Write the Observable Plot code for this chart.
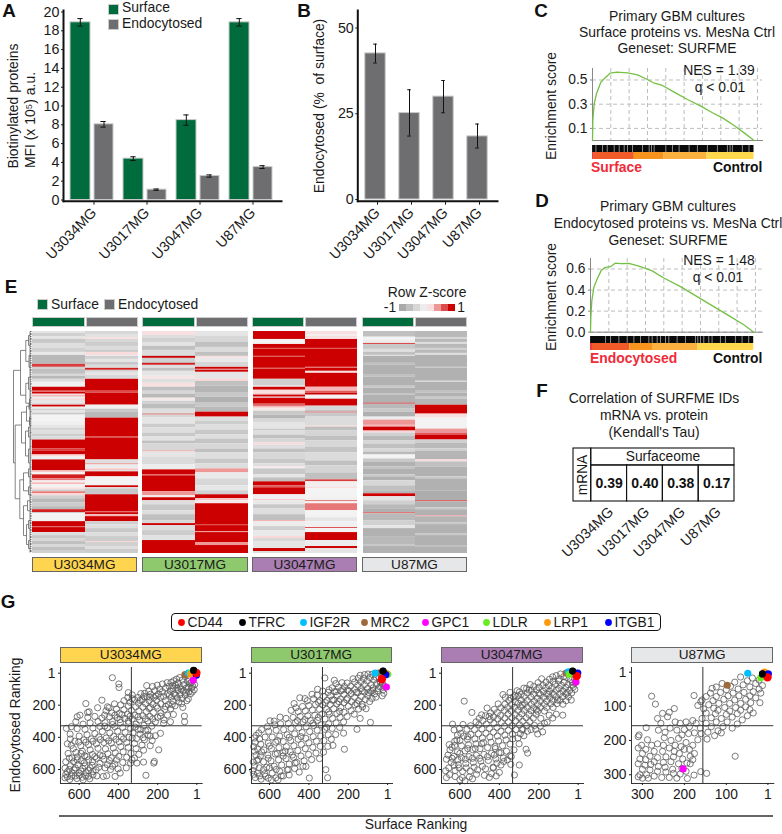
<!DOCTYPE html>
<html><head><meta charset="utf-8">
<script src="https://cdn.jsdelivr.net/npm/d3@7"></script>
<script src="https://cdn.jsdelivr.net/npm/@observablehq/plot@0.6"></script>
<style>
html,body{margin:0;padding:0;background:#fff}
#page{position:relative;width:782px;height:834px;overflow:hidden;font-family:"Liberation Sans",Arial,sans-serif;color:#1a1a1a}
.t{position:absolute;white-space:pre;transform:translate(-50%,-50%);line-height:1}
.s{position:absolute;box-sizing:border-box;border:1px solid #666;text-align:center;white-space:nowrap}
svg{position:absolute;overflow:visible}
</style></head><body><div id="page"></div>
<script>
const cellLines=["U3034MG","U3017MG","U3047MG","U87MG"];
const surfaceMFI=[18.9,4.4,8.5,18.9];
const surfaceErr=[0.4,0.2,0.55,0.4];
const endoMFI=[8.05,1.1,2.55,3.5];
const endoErr=[0.3,0.07,0.12,0.15];
const endoPct=[42.6,25.2,30,18.4];
const endoPctLow=[39.8,18.5,25.3,15];
const endoPctHigh=[45.3,32,34.7,22];

const gseaCRank=[0,18,91,218,455,636,964,1327,1909,2455,2909,3327,3818,4455,5182,5909,6545,7091,7727,8273,8818];
const gseaCES=[0,.165,.303,.386,.482,.51,.556,.565,.559,.543,.51,.477,.455,.40,.339,.284,.229,.187,.124,.063,0];
const gseaCGaps=[182,545,800,1182,1455,1727,1909,2182,2727,3091,3218,3364,4000,4364,4727,5273,5727,6273,6818,7364,7509,7636,8182,8545];
const gseaCBand=[[0,90,"#ee2a2a"],[90,2280,"#f15a29"],[2280,3880,"#f7941d"],[3880,6250,"#fbb040"],[6250,8818,"#ffd84d"]];
const gseaDRank=[0,18,73,182,364,582,764,1091,1364,1636,2091,2545,3000,3364,4000,4909,5818,6727,7636,8364,8909];
const gseaDES=[0,.142,.300,.427,.506,.585,.613,.622,.657,.651,.654,.632,.607,.582,.515,.433,.338,.243,.148,.070,0];
const gseaDGaps=[818,1091,1545,2000,2364,2727,3182,3364,3636,3818,4091,4273,4727,5182,5727,5855,6000,6182,6455,6636,7091,7364,7909,8273,8636];
const gseaDBand=[[0,100,"#ee2a2a"],[100,2145,"#f15a29"],[2145,3380,"#f7941d"],[3380,5870,"#fbb040"],[5870,8909,"#ffd84d"]];

// heatmap runs, flat: start row, z-score, start row, z-score ...
const rowsTotal=223;
const heatU3034S=[0,-.2,2,-.5,5,-.2,8,-.6,12,-.3,17,-.5,21,-.15,24,-.8,33,.8,36,-.5,38,-.7,43,-.4,45,-.8,48,-.35,51,-.05,56,1,60,.6,61,1,63,.1,64,.4,66,-.1,68,.35,69,-.2,72,-.35,74,1,76,-.1,78,-.5,80,-.2,82,-.6,84,0,90,-.05,94,-.2,97,-.45,100,-.3,103,-.55,106,-.35,109,1,118,.8,120,1,124,.3,126,-.05,129,1,140,.35,142,0,144,.9,148,.6,150,.05,152,.4,154,0,157,.2,159,-.5,161,.6,163,.3,165,-.5,168,-.8,172,-.55,176,-.8,179,.9,182,-.6,183,0,191,1,196,.7,197,1,202,-.3,205,-.6,208,-.4,211,-.7,214,-.4,217,-.7,220,-.5];
const heatU3034E=[0,-.4,3,-.25,6,.2,8,-.4,11,-.55,15,-.35,19,-.6,21,.25,24,-.1,25,-.5,28,-.2,31,-.6,34,-.35,37,.9,39,-.5,41,-.2,44,-.4,48,1,60,.75,62,1,74,-.05,78,-.6,81,-.8,87,1,106,.8,107,1,129,-.3,133,.6,134,-.1,138,.35,140,-.4,141,1,146,0,155,1,157,-.2,158,-.6,164,1,181,.7,182,1,184,.4,186,1,191,-.5,194,-.3,198,-.6,202,-.3,206,-.55,211,.3,212,-.5,216,-.3,219,-.55];
const heatU3017S=[0,.2,4,-.3,7,-.5,11,-.25,15,-.7,19,-.35,24,-.5,25,1,27,-.5,31,-.75,32,.9,34,-.3,37,-.7,40,-.2,45,.15,48,-.3,52,.2,56,-.7,60,-.4,63,-.8,67,.1,70,-.5,73,-.75,78,-.3,82,-.6,83,.7,84,-.4,87,-.2,93,-.55,97,-.3,102,-.6,106,-.25,110,-.7,113,-.4,120,.5,121,-.2,126,-.35,134,-.1,139,1,144,.7,145,1,161,.5,165,.1,167,1,170,-.3,174,-.6,180,-.3,184,-.7,190,-.4,193,1,195,-.3,200,-.55,205,-.25,210,1];
const heatU3017E=[0,-.2,5,-.4,11,-.7,16,-.35,21,-.7,25,.2,27,-.15,31,-.4,36,1,38,.5,39,1,41,-.2,48,.3,50,-.7,55,-.85,62,-.6,66,-.9,72,-.6,76,-.8,81,1,86,-.3,90,-.55,94,-.3,99,-.6,104,-.3,108,-.65,113,-.4,118,-.7,122,-.3,128,-.6,133,-.3,138,.5,142,-.15,148,-.4,155,-.2,160,-.5,164,1,168,.35,170,.1,173,1,194,.8,195,1,201,.5,202,1,212,.5,215,1];
const heatU3047S=[0,1,8,0,13,1,17,.7,18,1,25,.7,26,1,37,.7,38,1,48,-.5,55,.05,56,1,59,.2,63,.5,64,1,66,.1,67,1,73,.7,74,1,75,.4,77,.1,80,-.6,84,-.85,88,-.4,92,-.2,98,-.6,100,-.3,104,-.7,108,-.4,112,.25,114,-.3,118,-.7,122,-.4,128,-.6,133,-.3,136,.1,138,-.6,144,-.2,147,-.7,151,1,155,.7,157,1,164,-.05,169,.4,170,-.15,174,-.6,178,-.3,184,-.7,190,.45,191,-.1,196,-.5,200,-.15,206,.3,208,-.4,211,-.2,218,1,221,-.3];
const heatU3047E=[0,.2,3,.05,5,.2,8,1,17,.7,18,1,36,.6,37,1,40,.2,42,1,56,.4,60,.7,62,1,64,.0,68,1,75,-.4,79,-.7,81,.7,82,-.6,86,-.35,95,.3,96,-.7,100,-.45,105,-.7,110,-.4,116,-.65,122,-.35,130,-.7,135,-.45,142,-.7,149,.8,151,.05,156,.2,158,0,166,-.05,170,.7,171,0,173,.6,180,0,187,-.2,191,-.05,197,.8,198,.0,202,1,210,-.1,216,1,218,-.2];
const heatU87S=[0,-.7,5,-.35,6,0,9,-.1,12,.8,13,-.6,18,-.3,21,-.7,24,-.2,25,-.9,32,-.7,34,-.9,44,-.7,46,-.9,55,-.6,57,-.9,63,-.7,64,-.9,72,.9,73,-.8,78,-.6,81,-.9,86,-.1,89,.5,93,.7,94,.4,96,1,100,.3,102,-.5,105,-.8,110,-.4,113,-.7,118,-.4,121,-.8,124,.0,128,-.6,131,-.9,136,-.7,138,-.9,144,-.6,146,-.9,150,-.4,155,-.7,160,-.85,163,1,166,-.2,170,-.5,174,-.8,178,-.9,182,.7,183,-.8,190,-.5,195,-.2,198,-.9,206,-.8,214,-.6,216,-.9];
const heatU87E=[0,-.8,6,-.4,8,-.8,11,-.3,13,-.8,17,-.5,19,-.8,22,-.3,24,-.9,36,-.6,37,-.9,50,-.3,51,-.9,60,-.7,62,-.9,66,-.6,68,-.85,74,1,83,.2,87,0,98,.5,102,.7,104,1,109,-.5,112,-.8,118,-.5,120,-.85,129,.25,131,-.7,136,-.9,146,-.6,148,-.9,160,-.95,170,.8,171,-.9,177,-.6,179,-.9,185,.45,186,-.85,192,-.6,194,-.9,203,-.6,205,-.9,215,-.7,217,-.9];
const zSteps=[-1,-.7,-.4,-.1,.2,.5,.75,1];
// dendrogram merges: height, upper row, lower row, upper child height, lower child height
const dendro=[[18,39,132,11,16.3],[11,19,64,5.7,5.7],[16.3,94,168,10,11.7],[10,81,112,5,6],[11.7,149,188,8,8],[5.7,9,30,3,2.5],[5.7,52,72,3,2],[5,75,90,2.5,2],[6,100,125,3,3],[8,142,160,3,3],[8,175,205,4,5],[3,4,14,1.5,1.5],[2.5,24,36,1.5,1.5],[3,46,58,1.5,1.5],[2,68,76,1.5,1.5],[2.5,72,78,1.5,1.5],[2,86,94,1.5,1.5],[3,96,106,1.5,1.5],[3,118,132,1.5,1.5],[3,138,146,1.5,1.5],[3,156,164,1.5,1.5],[4,170,180,1.5,1.5],[5,194,214,3,3],[3,190,198,1.5,1.5],[3,210,218,1.5,1.5]];
const dendroLeaves=[0,2,3,5,7,8,10,12,13,15,17,19,20,22,24,25,27,29,31,32,34,36,38,39,41,43,45,46,48,50,52,53,55,57,59,60,62,64,66,67,69,71,73,74,76,78,80,81,83,85,87,88,90,92,94,95,97,99,101,102,104,106,108,109,111,113,115,116,118,120,122,123,125,127,129,130,132,134,136,137,139,141,143,144,146,148,150,151,153,155,157,158,160,162,164,165,167,169,171,172,174,176,178,179,181,183,185,186,188,190,192,193,195,197,199,200,202,204,206,207,209,211,213,214,216,218,220,221];

const tauValues=[0.39,0.40,0.38,0.17];

const genes=["CD44","TFRC","IGF2R","MRC2","GPC1","LDLR","LRP1","ITGB1"];
const geneColors=["#ff0000","#000000","#00bfff","#a0693c","#ff00ff","#66ee22","#ff9a0f","#0000ff"];
const geneDrawOrder=["MRC2","IGF2R","LDLR","LRP1","ITGB1","GPC1","CD44","TFRC"];
const hlU3034=[[3,0],[17,-16],[44,0],[61,10],[19,45],[32,0],[32,8],[3,14]];
const hlU3017=[[30,39],[24,-12],[64,0],[47,0],[7,87],[0,8],[8,2],[10,10]];
const hlU3047=[[8,19],[29,-12],[50,-8],[62,0],[12,55],[45,8],[7,0],[3,0]];
const hlU87=[[2,16],[14,6],[49,4],[98,39],[203,283],[18,17],[9,1],[0,6]];

const ptsU3034=[431,29,398,68,397,90,350,122,60,22,88,28,104,38,74,44,48,52,118,48,132,58,96,62,38,66,152,60,66,72,110,74,176,68,202,76,142,82,86,86,28,92,54,94,122,96,160,94,190,100,226,84,256,78,96,108,70,112,42,116,136,112,176,116,214,110,246,114,150,128,116,130,86,134,60,138,196,130,266,126,236,132,286,128,170,146,130,150,100,154,76,158,220,152,254,148,300,152,330,136,352,152,318,166,280,168,244,172,206,168,160,172,122,176,92,180,52,172,34,130,146,196,184,192,224,194,262,190,298,188,340,182,372,172,112,204,72,214,64,268,63,303,135,303,170,313,186,375,195,478,217,550,220,560,260,636,272,554,306,560,331,540,
134,222,164,226,200,218,238,214,276,212,312,210,350,206,388,198,420,192,184,248,222,246,258,240,296,236,334,232,372,228,410,224,448,216,150,262,120,258,200,276,240,270,276,266,316,262,354,256,396,252,434,248,470,262,506,216,484,169,456,210,463,235,168,292,212,304,250,298,292,292,330,286,368,282,406,278,446,272,484,280,520,270,556,276,596,262,610,272,617,303,665,344,640,334,566,190,549,241,557,245,
230,330,270,326,310,318,348,312,390,308,430,302,468,308,504,302,544,310,580,318,262,358,300,350,338,344,378,338,418,334,456,340,494,332,530,342,570,350,610,346,212,390,250,384,290,380,326,372,366,368,404,362,444,372,482,364,520,376,560,384,600,392,646,380,645,410,228,420,268,416,308,408,346,400,386,398,424,394,462,404,500,398,538,410,576,416,622,424,660,440,640,450,238,452,280,448,318,438,358,432,396,428,436,436,474,432,512,440,552,446,592,452,630,470,272,480,310,470,350,462,388,458,426,466,466,472,504,468,544,478,584,486,616,494,656,500,296,506,336,500,376,490,416,496,454,502,494,510,532,506,572,514,610,522,650,530,318,530,358,524,398,518,436,528,474,536,512,530,552,540,590,546,628,552,668,552,338,560,378,556,418,566,456,570,494,562,534,574,570,578,606,570,644,576,672,592,417,643,477,643,460,639,391,622,360,590,402,596,440,600,514,602,552,606,590,610,626,602,660,614,530,634,566,640,600,636,638,642,668,630,672,652,648,662,612,656,580,664,546,658,510,640,
18,30,40,40,30,60,12,72,22,82,44,86,14,104,80,100,102,92,124,80,58,120,24,118,108,138,140,136,186,150,208,142,240,150,270,146,290,170,330,160,78,190,44,160,126,196,160,208,206,206,244,220,186,268,226,286,262,284,300,272,340,268,382,258,418,262,350,300,392,290,430,320,470,330,316,336,286,352,250,356,238,392,274,402,330,404,374,410,412,412,450,422,492,414,530,424,566,430,602,430,
590,500,560,520,520,520,480,516,446,544,410,540,532,552,610,540,636,528,574,558,620,590,582,594,544,590,500,586,468,590,430,580,650,600,600,622,566,620,530,612,636,620,660,646,620,640,584,648,552,642];
const ptsU3017=[319,31,271,45,263,66,356,101,446,154,420,159,475,190,597,297,576,299,88,307,156,350,220,474,305,651,314,601,398,653,449,616,415,581,
80,8,100,6,118,10,140,14,60,26,44,30,90,28,122,34,150,32,176,36,70,44,38,52,104,50,136,54,168,56,206,62,232,60,26,66,56,68,84,72,118,72,152,76,188,82,220,84,250,88,282,92,40,86,74,92,102,96,134,96,168,102,204,106,238,110,270,116,302,120,330,112,24,104,52,110,86,114,118,118,152,122,186,128,222,132,256,138,290,142,326,146,358,138,384,132,20,126,66,130,100,140,134,146,168,150,204,156,240,162,274,168,308,170,344,172,376,160,408,172,80,158,114,164,148,172,184,178,222,184,258,192,292,196,330,198,366,196,400,202,432,208,466,216,130,194,166,198,200,206,238,214,274,222,310,226,346,226,382,230,418,236,454,240,490,232,
110,222,148,224,186,234,222,244,258,252,296,256,334,256,370,262,406,266,444,270,480,276,516,282,546,274,170,256,206,270,242,276,280,282,318,286,356,294,392,296,430,304,468,308,504,314,544,316,572,322,610,334,140,282,224,304,262,310,300,316,338,322,376,326,414,334,452,340,490,344,528,352,566,356,604,362,640,352,654,372,668,388,244,338,282,344,320,350,358,356,396,364,434,370,472,378,510,384,548,392,586,398,622,398,650,410,676,404,224,374,264,382,302,384,340,392,378,396,416,406,454,412,492,420,530,426,568,430,606,436,644,442,672,430,680,458,286,412,324,420,362,424,400,434,438,444,476,452,514,458,552,464,590,470,628,478,660,472,676,486,304,456,342,456,380,462,418,470,456,482,494,490,532,496,570,504,608,510,646,516,668,512,278,450,326,492,364,498,402,506,440,516,478,524,516,532,554,540,592,546,630,552,664,544,682,554,346,532,386,538,424,546,462,556,500,566,538,572,576,580,614,586,652,590,676,578,430,580,472,594,510,602,548,612,586,622,624,626,660,622,684,606,530,640,568,652,606,654,642,660,672,650,680,630,650,640,620,642,590,664,556,664,500,634,
36,58,16,84,48,96,76,108,96,122,130,112,160,120,196,112,228,104,262,116,298,104,28,142,60,150,92,178,156,190,208,166,248,178,282,168,316,184,352,182,128,210,244,238,300,242,352,276,420,290,458,296,380,312,310,338,440,396,500,400,558,420,600,454,640,490,560,500,520,486,484,510,606,530,656,538,530,516,470,560,600,590,630,600,566,600,540,640,504,600];
const ptsU3047=[578,175,539,245,382,134,502,282,637,318,629,354,595,375,615,416,654,445,299,572,324,634,451,649,257,498,265,474,181,366,206,379,172,313,79,262,
90,6,74,22,112,16,130,24,60,28,40,40,96,36,146,38,100,50,72,58,30,58,128,52,164,56,186,36,204,60,52,72,86,76,118,70,150,78,180,76,26,88,64,90,98,96,132,92,166,94,200,88,226,84,244,72,44,108,78,112,112,108,146,112,178,114,212,104,238,108,276,94,298,118,34,124,62,130,94,128,126,132,160,130,192,134,226,132,258,124,290,132,328,150,80,148,112,148,144,152,176,152,208,156,240,150,274,146,306,142,342,156,50,148,36,168,62,172,94,170,128,170,160,174,192,174,224,176,258,170,290,168,320,180,352,170,108,190,140,192,172,194,206,196,238,194,272,190,304,188,338,196,372,194,406,192,128,214,160,214,192,214,226,216,258,214,292,210,324,214,358,214,392,216,426,226,462,218,172,236,206,238,240,234,274,232,306,232,340,236,374,232,410,246,444,248,452,270,490,260,112,256,148,262,214,256,250,258,286,254,320,258,356,256,394,264,430,272,470,266,
190,282,228,280,264,278,300,276,336,278,372,280,408,286,446,290,484,296,518,304,246,302,282,300,318,298,354,304,390,308,428,312,466,318,504,322,546,328,584,320,222,326,262,326,298,322,336,328,374,330,412,338,450,344,488,348,526,352,564,350,602,346,240,352,280,350,316,352,354,356,392,362,430,368,468,374,506,378,544,382,580,392,294,378,334,380,372,386,410,392,448,398,486,404,524,410,562,412,600,420,640,462,332,410,366,416,404,422,442,430,480,432,518,440,556,446,592,452,626,450,346,442,384,452,422,458,460,464,498,470,536,476,574,484,612,490,650,478,326,478,364,486,402,494,440,500,478,506,516,512,554,520,592,526,630,518,660,510,340,520,380,528,418,534,456,544,494,548,532,556,570,562,608,570,644,556,668,536,342,568,392,572,432,586,470,596,510,602,548,610,586,612,624,606,656,590,672,608,400,618,440,626,476,636,516,630,552,646,588,650,624,644,652,632,668,650,600,664,574,670,536,658,416,640,
20,36,16,60,30,76,18,102,56,122,200,126,150,132,106,168,78,194,250,106,262,96,310,110,322,140,346,120,370,152,284,198,212,228,130,280,158,306,192,330,216,350,258,362,286,352,306,404,276,390,420,470,300,440,346,514,378,550,412,560,430,590,486,580,528,586,568,590,604,590,630,574,640,530,610,540,572,536,536,530,500,530,460,520,426,510,392,496,360,540,522,470,560,470,600,500,626,424,612,386,560,396,490,440];
const ptsU87=[278,71,269,94,264,136,291,163,177,69,161,87,79,246,147,296,161,291,177,301,193,311,310,189,224,107,236,118,252,121,240,131,256,150,
66,15,38,18,22,24,50,26,80,30,110,34,30,34,14,40,60,38,90,42,124,44,44,44,22,50,72,50,100,52,134,48,36,58,58,60,84,62,114,60,138,62,18,62,44,70,70,70,96,70,124,72,148,72,30,76,54,80,80,82,106,80,132,84,158,82,42,90,66,92,92,92,118,92,142,96,168,98,20,90,54,102,78,104,104,104,130,106,154,108,120,112,92,114,66,112,44,110,74,122,100,124,126,122,148,120,36,120,86,132,112,136,136,134,62,140,158,136,50,128,124,146,98,146,148,150,74,152,136,160,108,160,86,164,162,164,120,172,144,176,172,150,180,142,160,180,128,186,112,178,146,196,188,160,176,178,168,198,
196,146,210,150,222,146,200,168,218,170,234,164,206,184,190,180,246,176,262,170,248,192,232,200,214,194,288,198,308,184,264,210,278,214,302,214,250,214,222,214,196,206,208,218,236,222,292,226,272,232,310,222,252,232,224,232,200,226,188,226,180,214,176,238,212,238,186,246,204,254,226,248,244,248,264,250,282,246,300,238,306,254,292,256,272,262,250,264,232,262,214,268,194,266,180,256,186,268,206,282,228,284,246,278,262,276,280,270,294,272,310,268,300,284,282,286,264,290,244,292,226,296,210,298,196,290,306,300,290,300,272,304,254,308,236,308,218,310,300,310,310,306,286,310];

const page=document.getElementById("page");
const FS=13.9;
function text(str,x,y,o={}){
  const d=document.createElement("div");d.className="t";d.textContent=str;
  d.style.left=x+"px";d.style.top=y+"px";d.style.fontSize=(o.size||FS)+"px";
  if(o.bold)d.style.fontWeight="bold";
  if(o.color)d.style.color=o.color;
  if(o.anchor==="start")d.style.transform="translate(0,-50%)";
  if(o.rot)d.style.transform=`translate(-50%,-50%) rotate(${o.rot}deg)`;
  page.appendChild(d);
}
function box(x,y,w,h,fill,label,o={}){
  const d=document.createElement("div");d.className="s";
  d.style.cssText+=`left:${x}px;top:${y}px;width:${w}px;height:${h}px;background:${fill};line-height:${h-2}px;font-size:13.6px;`;
  if(o.noBorder)d.style.border="1px solid #ccc";
  if(label)d.textContent=label;
  page.appendChild(d);
}
function add(plot,x,y){plot.style.left=x+"px";plot.style.top=y+"px";page.appendChild(plot);}
const baseStyle={background:"transparent",fontFamily:"'Liberation Sans',Arial,sans-serif",fontSize:"13.8px",color:"#1a1a1a",overflow:"visible",maxWidth:"none"};
const bigStyle={...baseStyle,fontSize:"14.3px"};

/* Panel A */
const green="#006b3c",gray="#6e6e70",barEdge="#c9c9c9";
{
 const rows=s=>cellLines.map((line,i)=>({line,...s(i)}));
 const sf=rows(i=>({v:surfaceMFI[i],e:surfaceErr[i]})),en=rows(i=>({v:endoMFI[i],e:endoErr[i]}));
 const whisk=(data,dx,l,r)=>[
  Plot.ruleX(data,{x:"line",y1:d=>d.v-d.e,y2:d=>d.v+d.e,dx,stroke:"#111",strokeWidth:1}),
  Plot.tickY(data,{x:"line",y:d=>d.v+d.e,insetLeft:l,insetRight:r,stroke:"#111"}),
  Plot.tickY(data,{x:"line",y:d=>d.v-d.e,insetLeft:l,insetRight:r,stroke:"#111"})];
 add(Plot.plot({width:282,height:260,marginLeft:63,marginTop:10,marginRight:1,marginBottom:59.3,style:bigStyle,
  x:{type:"band",domain:cellLines,range:[63.2,278],padding:0,label:null},
  y:{domain:[0,20],range:[199.5,11.5],label:null},
  marks:[
   Plot.barY(sf,{x:"line",y:"v",fill:green,stroke:barEdge,insetLeft:5,insetRight:28}),
   Plot.barY(en,{x:"line",y:"v",fill:gray,stroke:barEdge,insetLeft:29,insetRight:5}),
   ...whisk(sf,-11.7,12.3,35.4),...whisk(en,12,35.4,12.3),
   Plot.frame({anchor:"left",stroke:"#111",strokeWidth:2}),
   Plot.frame({anchor:"bottom",stroke:"#111",strokeWidth:2}),
   Plot.axisY({ticks:d3.range(0,21,2),tickSize:2,tickPadding:2,label:null}),
   Plot.axisX({tickRotate:-46,tickSize:3,tickPadding:5,dx:2,dy:1,label:null})
  ]}),0,0);
 box(107.5,3.5,11,11,green,"",{noBorder:1});box(107.5,18.5,11,11,gray,"",{noBorder:1});
 text("Surface",122,8,{anchor:"start"});text("Endocytosed",122,23.6,{anchor:"start"});
 text("Biotinylated proteins",14,106,{rot:-90});text("MFI (x 10⁵) a.u.",31,120,{rot:-90});
}
/* Panel B */
{
 const d=cellLines.map((line,i)=>({line,v:endoPct[i],lo:endoPctLow[i],hi:endoPctHigh[i]}));
 add(Plot.plot({width:497,height:260,marginLeft:357.3,marginTop:10,marginRight:0,marginBottom:59.3,style:bigStyle,
  x:{type:"band",domain:cellLines,range:[356.5,494.5],padding:0,label:null},
  y:{domain:[0,55.4],range:[199,9],label:null},
  marks:[
   Plot.barY(d,{x:"line",y:"v",fill:gray,stroke:barEdge,insetLeft:6.8,insetRight:6.8}),
   Plot.ruleX(d,{x:"line",y1:"lo",y2:"hi",stroke:"#111"}),
   Plot.tickY(d,{x:"line",y:"hi",insetLeft:15.2,insetRight:15.2,stroke:"#111"}),
   Plot.tickY(d,{x:"line",y:"lo",insetLeft:15.2,insetRight:15.2,stroke:"#111"}),
   Plot.frame({anchor:"left",stroke:"#111",strokeWidth:2}),
   Plot.frame({anchor:"bottom",stroke:"#111",strokeWidth:2}),
   Plot.axisY({ticks:[0,25,50],tickSize:2,tickPadding:2,label:null}),
   Plot.axisX({tickRotate:-46,tickSize:3,tickPadding:5,dx:2,dy:1,label:null})
  ]}),0,0);
 text("Endocytosed (%  of surface)",320,106,{rot:-90});
}
/* Panels C, D */
function gsea(ranks,es,gaps,band,o){
 const curve=ranks.map((r,i)=>({r,es:es[i]}));
 const xd=[0,ranks[ranks.length-1]];
 const grid=d3.range(1000,9001,1000);
 add(Plot.plot({width:o.right-o.x+40,height:o.zero-o.top+1,marginLeft:40,marginTop:0,marginRight:0,marginBottom:1,style:baseStyle,
  x:{domain:xd,range:[40,40+o.end-o.x],axis:null},
  y:{domain:[0,o.ymax],range:[o.zero-o.top,0],label:null},
  marks:[
   Plot.ruleX(grid,{stroke:"#bdbdbd",strokeDasharray:"4,3"}),
   Plot.ruleY(o.ticks,{stroke:"#bdbdbd",strokeDasharray:"4,3"}),
   Plot.frame({anchor:"left",stroke:"#888"}),
   Plot.frame({anchor:"bottom",stroke:"#888"}),
   Plot.line(curve,{x:"r",y:"es",stroke:"#74c044",strokeWidth:1.3}),
   Plot.axisY({ticks:o.ticks,tickFormat:d3.format(".1f"),tickSize:2,tickPadding:3,stroke:"#888",label:null})
  ]}),o.x-40,o.top);
 const bandRows=band.map(b=>({x1:b[0],x2:b[1],fill:b[2]}));
 add(Plot.plot({width:o.end-o.x,height:o.stripH,margin:0,style:baseStyle,
  x:{domain:xd,range:[0,o.end-o.x],axis:null},
  y:{type:"band",domain:["hits","rank"],range:[0,o.stripH],padding:0,axis:null},
  marks:[
   Plot.barX([{x1:0,x2:xd[1]}],{x1:"x1",x2:"x2",y:()=>"hits",fill:"#0a0a0a"}),
   Plot.tickX(gaps,{x:d=>d,y:()=>"hits",stroke:"#8a8a8a",strokeWidth:1}),
   Plot.barX(bandRows,{x1:"x1",x2:"x2",y:()=>"rank",fill:"fill"})
  ]}),o.x,o.stripTop);
}
gsea(gseaCRank,gseaCES,gseaCGaps,gseaCBand,{x:591.7,end:753.3,right:761.7,top:68,zero:140,ymax:.595,ticks:[.1,.3,.5],stripTop:144,stripH:15.5});
gsea(gseaDRank,gseaDES,gseaDGaps,gseaDBand,{x:590,end:753.3,right:761.7,top:258,zero:331.7,ymax:.70,ticks:[0,.2,.4,.6],stripTop:335,stripH:15});
["Primary GBM cultures","Surface proteins vs. MesNa Ctrl","Geneset: SURFME"].forEach((s,i)=>text(s,677,[16.7,33,49][i]));
["Primary GBM cultures","Endocytosed proteins vs. MesNa Ctrl","Geneset: SURFME"].forEach((s,i)=>text(s,668,[207,224,241][i]));
text("NES = 1.39",719,71);text("q < 0.01",720,88);text("NES = 1.48",719,261);text("q < 0.01",718,278);
text("Enrichment score",552,106,{rot:-90});text("Enrichment score",552,297,{rot:-90});
text("Surface",591,168,{anchor:"start",bold:1,color:"#ef2b3a"});text("Control",713,168,{anchor:"start",bold:1,color:"#111"});
text("Endocytosed",590,359,{anchor:"start",bold:1,color:"#ef2b3a"});text("Control",713,359,{anchor:"start",bold:1,color:"#111"});

/* Panel E */
const heatColor={type:"linear",domain:[-1,-.5,0,.3,.6,1],range:["#a9a9a9","#d0d0d0","#f3f3f3","#fbd6d6","#e87878","#cc0000"]};
const runs=(flat,col)=>{const out=[];for(let i=0;i<flat.length;i+=2){const y2=i+2<flat.length?flat[i+2]:rowsTotal;if(flat[i]<rowsTotal)out.push({col,y1:flat[i],y2:Math.min(y2,rowsTotal),z:flat[i+1]});}return out;};
[[heatU3034S,heatU3034E,32,138],[heatU3017S,heatU3017E,142,248],[heatU3047S,heatU3047E,252,357],[heatU87S,heatU87E,362,467]].forEach(([a,b,x0,x1])=>{
 const w=x1-x0;
 add(Plot.plot({width:w,height:222,margin:0,style:baseStyle,
  x:{type:"band",domain:["Surface","Endocytosed"],range:[0,w],padding:0,axis:null},
  y:{domain:[0,rowsTotal],range:[0,222],axis:null},
  color:heatColor,
  marks:[Plot.barY([...runs(a,"Surface"),...runs(b,"Endocytosed")],{x:"col",y1:"y1",y2:"y2",fill:"z"})]
 }),x0,331);
 box(x0,317,w/2-.5,10,green,"",{noBorder:1});box(x0+w/2+.5,317,w/2-.5,10,gray,"",{noBorder:1});
});
box(32,557,105,15,"#ffd54f","U3034MG");box(142,557,106,15,"#8ec96e","U3017MG");box(252,557,105,15,"#aa7eb3","U3047MG");box(362,557,105,15,"#e6e7e8","U87MG");
box(37,299,11,11,green,"",{noBorder:1});text("Surface",51,305,{anchor:"start"});
box(104,299,11,11,gray,"",{noBorder:1});text("Endocytosed",118,305,{anchor:"start"});
text("Row Z-score",427,293);text("-1",390,307.5);text("1",461,307.5);
add(Plot.plot({width:58,height:7,margin:0,style:baseStyle,
 x:{type:"band",domain:zSteps,range:[0,58],padding:0,axis:null},y:{axis:null},color:heatColor,
 marks:[Plot.cell(zSteps,{x:d=>d,fill:d=>d})]}),398,304);
/* dendrogram */
{
 const segs=[];
 dendro.forEach(([h,a,b,ha,hb])=>{segs.push({x1:h,x2:h,y1:a,y2:b},{x1:h,x2:ha,y1:a,y2:a},{x1:h,x2:hb,y1:b,y2:b});});
 add(Plot.plot({width:21,height:222,margin:0,style:baseStyle,
  x:{domain:[20,0],range:[0,20],axis:null},y:{domain:[0,rowsTotal],range:[0,222],axis:null},
  marks:[
   Plot.link(segs,{x1:"x1",x2:"x2",y1:"y1",y2:"y2",stroke:"#666",strokeWidth:.8}),
   Plot.link(dendroLeaves,{x1:()=>1.5,x2:()=>0,y1:d=>d,y2:d=>d,stroke:"#333",strokeWidth:.7}),
   Plot.link([0],{x1:()=>1.5,x2:()=>1.5,y1:()=>0,y2:()=>222,stroke:"#555",strokeWidth:.7})
  ]}),11,331);
}

/* Panel F */
{
 const d=tauValues.map((v,i)=>({i,v}));
 add(Plot.plot({width:260,height:106,marginLeft:93,marginRight:6,marginTop:0,marginBottom:53,style:bigStyle,
  x:{domain:[-.495,4],range:[93,254],label:null},
  y:{domain:[1.47,0],range:[0,53],axis:null},
  marks:[
   Plot.rect(d,{x1:"i",x2:o=>o.i+1,y1:()=>0,y2:()=>1,stroke:"#111",fill:"none",strokeWidth:1.1}),
   Plot.rect([0],{x1:()=>0,x2:()=>4,y1:()=>1,y2:()=>1.47,stroke:"#111",fill:"none",strokeWidth:1.1}),
   Plot.rect([0],{x1:()=>-.495,x2:()=>0,y1:()=>0,y2:()=>1.47,stroke:"#111",fill:"none",strokeWidth:1.1}),
   Plot.text(d,{x:o=>o.i+.5,y:()=>.5,text:o=>o.v.toFixed(2),fontWeight:"bold",fontSize:14,fill:"#111"}),
   Plot.text(["Surfaceome"],{x:()=>2,y:()=>1.235,text:s=>s,fontSize:13.8,fill:"#1a1a1a"}),
   Plot.text(["mRNA"],{x:()=>-.2475,y:()=>.735,text:s=>s,rotate:-90,fontSize:13.8,fill:"#1a1a1a"}),
   Plot.axisX({ticks:[.5,1.5,2.5,3.5],tickFormat:v=>cellLines[Math.floor(v)],tickRotate:-44,tickSize:0,tickPadding:7,dx:2,dy:1,label:null})
  ]}),480,448);
 ["Correlation of SURFME IDs","mRNA vs. protein","(Kendall's Tau)"].forEach((s,i)=>text(s,654,[399,416,433][i]));
}

/* Panel G */
{
 const d=document.createElement("div");
 d.style.cssText="position:absolute;left:170.5px;top:612.5px;width:490px;height:18px;border:1px solid #111;border-radius:4px;box-sizing:border-box;background:#fff";
 page.appendChild(d);
 add(Plot.plot({width:490,height:18,margin:0,style:baseStyle,
  x:{type:"point",domain:genes,range:[9.5,437.5],padding:0,axis:null},y:{axis:null},
  marks:[
   Plot.dot(genes,{x:g=>g,frameAnchor:"middle",r:3.4,fill:(g)=>geneColors[genes.indexOf(g)],stroke:"none"}),
   Plot.text(genes,{x:g=>g,text:g=>g,frameAnchor:"middle",textAnchor:"start",dx:6,fontSize:13.8,fill:"#1a1a1a"})
  ]}),170.5,612.5);
}
function scatter(name,flat,hl,o,fill){
 const pts=[];for(let i=0;i<flat.length;i+=2)pts.push({s:flat[i],e:flat[i+1]});
 const high=geneDrawOrder.map(g=>{const i=genes.indexOf(g);return{g,s:hl[i][0],e:hl[i][1],c:geneColors[i],big:g==="CD44"};});
 const ml=45;
 add(Plot.plot({width:o.w+ml+1,height:146,marginLeft:ml,marginRight:1,marginTop:0,marginBottom:30,style:baseStyle,
  x:{domain:o.xd,range:[ml,ml+o.w],label:null},
  y:{domain:o.yd,range:[0,116],label:null},
  marks:[
   Plot.dot(pts,{x:"s",y:"e",r:3.1,stroke:"#5a5a5a",strokeWidth:.8,fill:"none"}),
   Plot.ruleX([o.mx],{stroke:"#333"}),Plot.ruleY([o.my],{stroke:"#333"}),
   Plot.frame({anchor:"left",stroke:"#333"}),Plot.frame({anchor:"bottom",stroke:"#333"}),
   Plot.dot(high.filter(d=>!d.big),{x:"s",y:"e",r:3.6,fill:"c",stroke:"none"}),
   Plot.dot(high.filter(d=>d.big),{x:"s",y:"e",r:4.2,fill:"c",stroke:"none"}),
   Plot.dot(high.filter(d=>d.g==="TFRC"),{x:"s",y:"e",r:3.4,fill:"c",stroke:"none"}),
   Plot.axisY({ticks:o.yt,tickSize:2,tickPadding:3,label:null}),
   Plot.axisX({ticks:o.xt,tickSize:2,tickPadding:4,label:null})
  ]}),o.x-ml,667);
 box(o.x,647,o.w,16,fill,name);
}
const t600=[1,200,400,600],t300=[1,100,200,300];
scatter("U3034MG",ptsU3034,hlU3034,{x:60,w:141.7,xd:[695,-26.5],yd:[-34.4,687],mx:334,my:328,xt:t600,yt:t600},"#ffd54f");
scatter("U3017MG",ptsU3017,hlU3017,{x:250.7,w:141,xd:[691,-24],yd:[-34.4,687],mx:331,my:328,xt:t600,yt:t600},"#8ec96e");
scatter("U3047MG",ptsU3047,hlU3047,{x:440.7,w:142,xd:[693,-26],yd:[-34.4,687],mx:333,my:328,xt:t600,yt:t600},"#aa7eb3");
scatter("U87MG",ptsU87,hlU87,{x:631,w:142.3,xd:[326,-13],yd:[-12.7,325.5],mx:156,my:157,xt:t300,yt:t300},"#e6e7e8");
add(Plot.plot({width:714,height:3,margin:0,style:baseStyle,x:{domain:[0,1],range:[0,714],axis:null},y:{axis:null},
 marks:[Plot.ruleY([0],{stroke:"#666",strokeWidth:2,frameAnchor:"middle"})]}),59,813.5);
text("Surface Ranking",416,825);
text("Endocytosed Ranking",16,725,{rot:-90});

/* Panel letters */
[["A",9,10.6],["B",304,10.6],["C",541,10.6],["D",542,201],["E",11,287],["F",542,391],["G",8,602]].forEach(([s,x,y])=>text(s,x,y,{size:18.8,bold:1,color:"#111"}));
</script></body></html>
